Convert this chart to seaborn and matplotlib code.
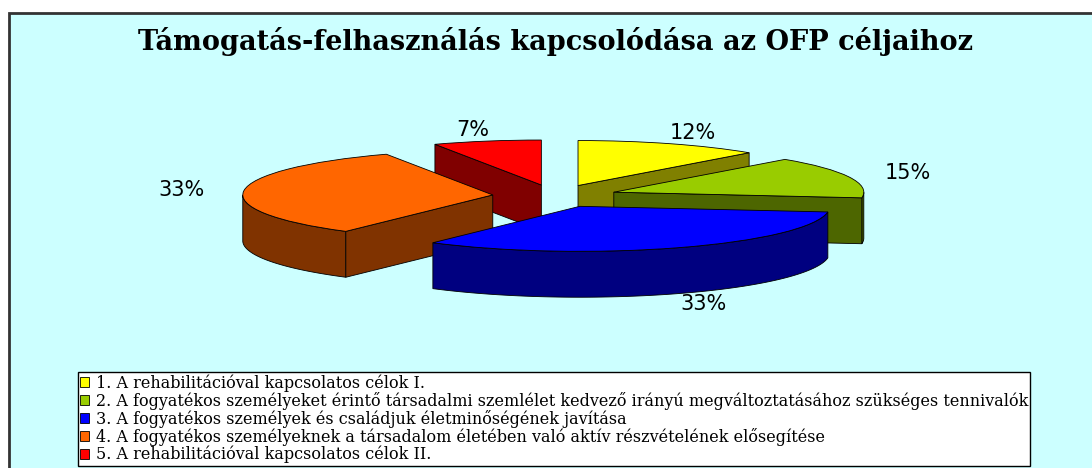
import numpy as np
import matplotlib
matplotlib.use("Agg")
import matplotlib.pyplot as plt
from matplotlib.patches import Polygon, Rectangle
import seaborn as sns

title = "Támogatás-felhasználás kapcsolódása az OFP céljaihoz"
labels = ["1. A rehabilitációval kapcsolatos célok I.",
          "2. A fogyatékos személyeket érintő társadalmi szemlélet kedvező irányú megváltoztatásához szükséges tennivalók",
          "3. A fogyatékos személyek és családjuk életminőségének javítása",
          "4. A fogyatékos személyeknek a társadalom életében való aktív részvételének elősegítése",
          "5. A rehabilitációval kapcsolatos célok II."]
shares = [12, 15, 33, 33, 7]
top_colors = ["#FFFF00", "#99CC00", "#0000FF", "#FF6600", "#FF0000"]
side_colors = ["#808000", "#4D6600", "#000080", "#803300", "#800000"]

sns.set_style("white")
plt.rcParams["font.family"] = ["DejaVu Sans"]
plt.rcParams["text.color"] = "black"

fig = plt.figure(figsize=(10.92, 4.68), dpi=100)
fig.patch.set_facecolor("white")
# cyan chart area, its right and bottom edge run off the picture
fig.patches.append(Rectangle((9 / 1092, -0.2), 1.2, 1.2 - 13 / 468, transform=fig.transFigure,
                             facecolor="#CCFFFF", edgecolor="#333333", lw=2, zorder=-5))

ax = fig.add_axes([0, 0, 1, 1])
ax.patch.set_visible(False)

depth = 1.02  # thickness of the pie (y data units)
wedges, texts, autotexts = ax.pie(shares, startangle=90, counterclock=False, explode=[0.25] * 5,
                                  colors=top_colors, autopct="%1.0f%%", pctdistance=1.25,
                                  wedgeprops=dict(edgecolor="black", linewidth=0.6),
                                  textprops=dict(fontsize=15, color="black"))

# squash the pie into a flat ellipse
ax.set_aspect("auto")
ax.set_xlim(-555 / 250, (1092 - 555) / 250)
ax.set_ylim((196 - 468) / 45, 196 / 45)
ax.axis("off")

mids = [np.deg2rad((w.theta1 + w.theta2) / 2) for w in wedges]
order = list(np.argsort([-np.sin(m) for m in mids]))  # back slices first

for i, w in enumerate(wedges):
    k = order.index(i)
    cx, cy = w.center
    r = w.r
    # outer wall, only the part facing the viewer
    t = np.deg2rad(np.linspace(w.theta1, w.theta2, 300))
    front = t[np.sin(t) <= 0]
    if len(front) > 1:
        xs = cx + r * np.cos(front)
        ys = cy + r * np.sin(front)
        pts = np.column_stack([np.r_[xs, xs[::-1]], np.r_[ys, ys[::-1] - depth]])
        ax.add_patch(Polygon(pts, closed=True, facecolor=side_colors[i], edgecolor="black",
                             lw=0.6, zorder=2 * k + 1))
    # cut faces along the radii
    for ang, normal in [(w.theta1, w.theta1 - 90), (w.theta2, w.theta2 + 90)]:
        if np.sin(np.deg2rad(normal)) < -0.01:
            a = np.deg2rad(ang)
            ex, ey = cx + r * np.cos(a), cy + r * np.sin(a)
            pts = [(cx, cy), (ex, ey), (ex, ey - depth), (cx, cy - depth)]
            ax.add_patch(Polygon(pts, closed=True, facecolor=side_colors[i], edgecolor="black",
                                 lw=0.6, zorder=2 * k + 1))
    w.set_zorder(2 * k + 2)

for t, m in zip(autotexts, mids):
    t.set_zorder(20)
    if np.sin(m) < -0.5:
        x, y = t.get_position()
        t.set_position((x, y - depth))

fig.text(556 / 1092, 1 - 42 / 468, title, ha="center", va="center", fontsize=19.5,
         fontweight="bold", family="DejaVu Serif", color="black")

leg = fig.legend(wedges, labels, loc="upper left", bbox_to_anchor=(78 / 1092, 1 - 372 / 468),
                 frameon=True, fancybox=False, edgecolor="black", framealpha=1,
                 prop=dict(family="DejaVu Serif", size=11.5), handlelength=0.55, handleheight=0.55,
                 handletextpad=0.4, labelspacing=0.0, borderpad=0.15, borderaxespad=0)
leg.get_frame().set_linewidth(1.0)

fig.savefig("out.png", dpi=100)
